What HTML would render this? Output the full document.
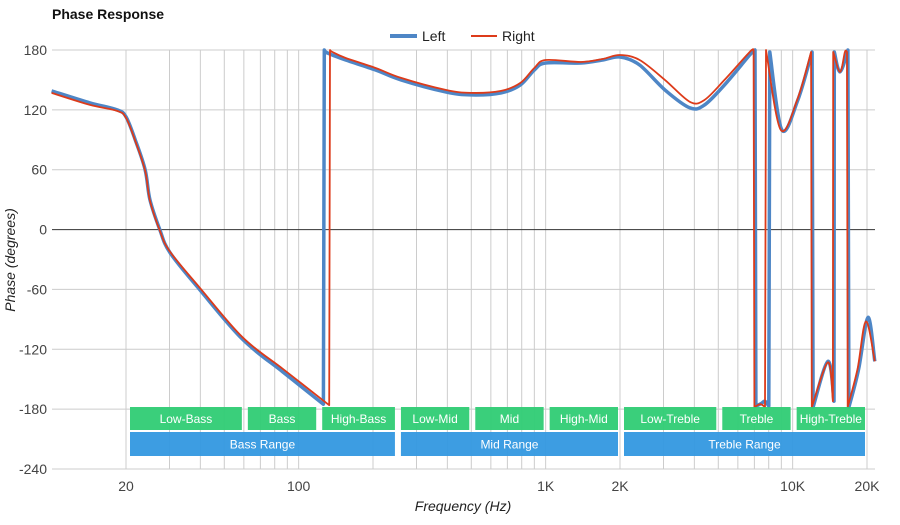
<!DOCTYPE html>
<html><head><meta charset="utf-8"><style>
body{margin:0;background:#fff;font-family:"Liberation Sans",sans-serif;}
svg text{font-family:"Liberation Sans",sans-serif;}
</style></head><body>
<svg id="chart" width="900" height="520">
<text x="52" y="19" font-size="14" font-weight="bold" fill="#111">Phase Response</text>
<g id="grid"></g><g id="series"></g><g id="bands"></g><g id="axes"></g>
<g>
<g><line x1="390" y1="36" x2="417" y2="36" stroke="#4e86c6" stroke-width="4"/><text x="422" y="41" font-size="14" fill="#222">Left</text></g>
<g><line x1="471" y1="36" x2="497" y2="36" stroke="#dd3b1a" stroke-width="2"/><text x="502" y="41" font-size="14" fill="#222">Right</text></g>
</g>
<text x="463" y="511" font-size="14" font-style="italic" text-anchor="middle" fill="#222">Frequency (Hz)</text>
<text transform="translate(15,260) rotate(-90)" font-size="14" font-style="italic" text-anchor="middle" fill="#222">Phase (degrees)</text>
</svg>
<script>
const yTicks=[180,120,60,0,-60,-120,-180,-240];
const xTickVals=[20,100,1000,2000,10000,20000];
const xTickLabels=["20","100","1K","2K","10K","20K"];
const leftFreq=[10,14.3,18.4,20,21.8,23.9,25,27.4,30.1,39.7,59.3,86.6,126,127,131,155,205,260,394,498,660,790,900,1000,1390,1700,2000,2400,3040,3840,4400,5300,6700,7040,7100,7500,7730,8010,8080,9040,10500,11990,12100,13900,14700,14750,15550,16740,16900,18500,20190,21500];
const leftVal=[139,127,120,113,90,60,30,0,-23,-60,-110,-143,-175,180,177,170,160,150,138,135,137,145,160,167,167,170,173,165,140,122,125,145,175,180,-177,-174,-172,-177,178,100,130,178,-178,-132,-172,178,158,180,-178,-140,-88,-132];
const rightFreq=[10,14.3,18.4,20,21.8,23.9,25,27.4,30.1,39.7,59.3,86.6,133,134,137,155,205,260,394,498,660,790,900,1000,1390,1700,2000,2400,3040,3840,4400,5300,6700,6950,7000,7400,7730,7800,8950,10500,11880,11950,13900,14550,14600,15550,16280,16600,16700,18300,19800,21500];
const rightVal=[137,125,119,112,89,59,29,-1,-22,-58,-108,-140,-176,180,178,172,162,152,140,137,139,147,162,170,168,171,175,170,150,128,130,150,178,180,-178,-175,-178,180,100,132,178,-178,-133,-172,178,158,178,178,-178,-140,-92,-132];
const L=52,R=875,T=50,B=469;
const X=f=>126+(Math.log10(f)-Math.log10(20))*247;
const Y=v=>T+(180-v)*(B-T)/420;
const NS="http://www.w3.org/2000/svg";
function mk(tag,attrs,parent){const e=document.createElementNS(NS,tag);for(const k in attrs)e.setAttribute(k,attrs[k]);parent.appendChild(e);return e;}
const grid=document.getElementById('grid');
for(let d=10;d<=10000;d*=10)for(let m=1;m<10;m++){const f=d*m;const x=X(f);if(x<L||x>R)continue;
const ln=mk('line',{x1:x,x2:x,y1:T,y2:B,stroke:'#ccc','stroke-width':1},grid);

}
const axes=document.getElementById('axes');
yTicks.forEach(v=>{const y=Y(v);
const ln=mk('line',{x1:L,x2:R,y1:y,y2:y,stroke:v===0?'#333':'#ccc','stroke-width':1},grid);


const t=mk('text',{x:47,y:y+5,'font-size':14,'text-anchor':'end',fill:'#444'},axes);t.textContent=v;

});
xTickVals.forEach((f,i)=>{const t=mk('text',{x:X(f),y:491,'font-size':14,'text-anchor':'middle',fill:'#444'},axes);t.textContent=xTickLabels[i];

});
const bandNames=["Low-Bass","Bass","High-Bass","Low-Mid","Mid","High-Mid","Low-Treble","Treble","High-Treble"];
const bandEdges=[20,60,120,250,500,1000,2000,5000,10000,20000];
const rangeNames=["Bass Range","Mid Range","Treble Range"];
const rangeEdges=[20,250,2000,20000];
const bands=document.getElementById('bands');
function band(name,f0,f1,y,h,col,dn){const x0=X(f0)+4,x1=X(f1)-2;
const g=mk('g',{},bands);


mk('rect',{x:x0,y:y,width:x1-x0,height:h,fill:col,opacity:0.95},g);
const t=mk('text',{x:(x0+x1)/2,y:y+h/2+4.5,'font-size':12,'text-anchor':'middle',fill:'#fff'},g);t.textContent=name;}
bandNames.forEach((n,i)=>band(n,bandEdges[i],bandEdges[i+1],407,23,'#2fcc74','band-'+n.toLowerCase()));
rangeNames.forEach((n,i)=>band(n,rangeEdges[i],rangeEdges[i+1],432,24,'#3398e0','range-'+n.toLowerCase().replace(' ','-')));
const series=document.getElementById('series');
function path(fr,vals){
  const pts=fr.map((f,i)=>[X(f),Y(vals[i])]);
  const segs=[];let cur=[pts[0]];
  for(let i=1;i<pts.length;i++){if(Math.abs(vals[i]-vals[i-1])>250){segs.push(cur);cur=[pts[i]];}else cur.push(pts[i]);}
  segs.push(cur);
  let d='';
  segs.forEach((s,si)=>{
    d+=(si===0?'M':'L')+s[0][0].toFixed(1)+','+s[0][1].toFixed(1);
    for(let i=0;i<s.length-1;i++){
      const p0=s[Math.max(0,i-1)],p1=s[i],p2=s[i+1],p3=s[Math.min(s.length-1,i+2)];
      const k=6;
      const c1=[p1[0]+(p2[0]-p0[0])/k,p1[1]+(p2[1]-p0[1])/k];
      const c2=[p2[0]-(p3[0]-p1[0])/k,p2[1]-(p3[1]-p1[1])/k];
      d+='C'+c1[0].toFixed(1)+','+c1[1].toFixed(1)+' '+c2[0].toFixed(1)+','+c2[1].toFixed(1)+' '+p2[0].toFixed(1)+','+p2[1].toFixed(1);
    }
  });
  return d;}
const pl=mk('path',{d:path(leftFreq,leftVal),fill:'none',stroke:'#4e86c6','stroke-width':3.5,'stroke-linejoin':'round'},series);


const pr=mk('path',{d:path(rightFreq,rightVal),fill:'none',stroke:'#dd3b1a','stroke-width':1.8,'stroke-linejoin':'round'},series);


</script>
</body></html>
